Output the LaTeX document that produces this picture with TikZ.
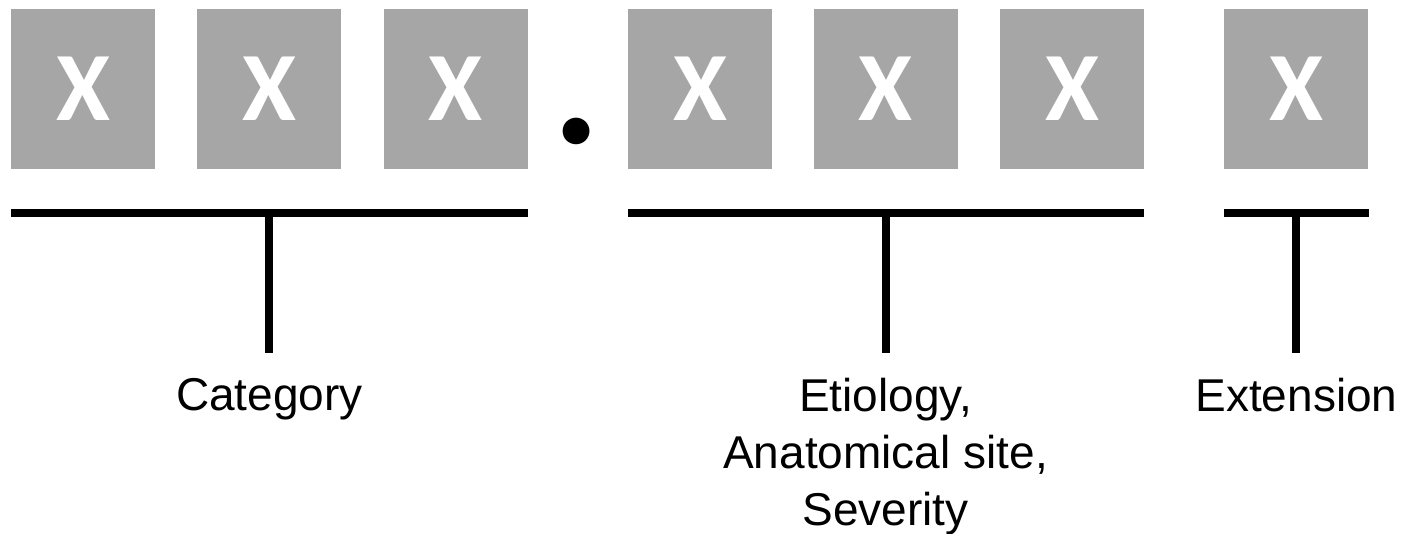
\documentclass[tikz,border=0pt]{standalone}
\usepackage{fontspec}
\setmainfont{Liberation Sans}
\newfontfamily\boxfont{Carlito}
\usetikzlibrary{positioning}
\definecolor{boxgray}{RGB}{166,166,166}

\begin{document}
\begin{tikzpicture}[x=1pt, y=-1pt,
    digit/.style={fill=boxgray, minimum width=144pt, minimum height=160pt, inner sep=0pt,
      text=white, font=\boxfont\bfseries\fontsize{98}{98}\selectfont},
    bar/.style={line width=8pt},
    desc/.style={inner sep=0pt, align=center, font=\fontsize{46}{57}\selectfont}]
  \useasboundingbox (0,0) rectangle (1406,534);
  % code boxes
  \node[digit] (c1) at (83,89) {X};
  \node[digit, right=42pt of c1] (c2) {X};
  \node[digit, right=42pt of c2] (c3) {X};
  \node[digit, right=100pt of c3] (e1) {X};
  \node[digit, right=41pt of e1] (e2) {X};
  \node[digit, right=42pt of e2] (e3) {X};
  \node[digit, right=80pt of e3] (x1) {X};
  \node[inner sep=0pt, anchor=base, font=\boxfont\bfseries\fontsize{180}{180}\selectfont] (dot) at (577,144) {.};
  % brackets
  \coordinate[below=44pt of c1.south west] (cl);
  \coordinate[below=44pt of c3.south east] (cr);
  \coordinate[below=44pt of e1.south west] (el);
  \coordinate[below=44pt of e3.south east] (er);
  \coordinate[below=44pt of x1.south west] (xl);
  \coordinate[below=44pt of x1.south east] (xr);
  \draw[bar] (cl) -- (cr);
  \draw[bar] (el) -- (er);
  \draw[bar] (xl) -- (xr);
  \coordinate (ct) at (c2 |- cl);
  \coordinate (et) at (e2 |- el);
  \coordinate (xt) at (x1 |- xl);
  \coordinate[below=140pt of ct] (cb);
  \coordinate[below=140pt of et] (eb);
  \coordinate[below=140pt of xt] (xb);
  \draw[bar] (ct) -- (cb);
  \draw[bar] (et) -- (eb);
  \draw[bar] (xt) -- (xb);
  % labels
  \node[desc, below=25pt of cb] (cat) {Category};
  \node[desc, below=25pt of eb] (eti) {Etiology,\\Anatomical site,\\Severity};
  \node[desc, below=25pt of xb] (ext) {Extension};
\end{tikzpicture}
\end{document}
